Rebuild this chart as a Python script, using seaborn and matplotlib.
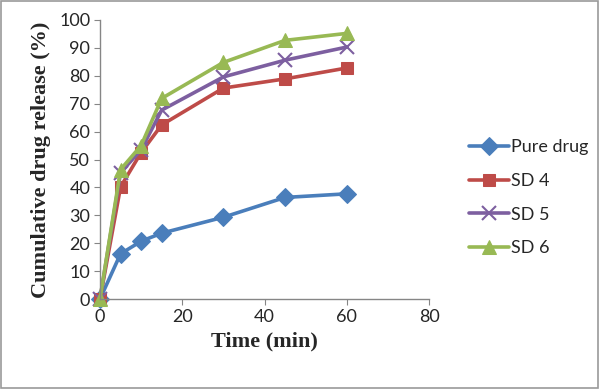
import matplotlib
matplotlib.use("Agg")
import matplotlib.pyplot as plt
import seaborn as sns
import pandas as pd
from matplotlib.patches import Rectangle

time = [0, 5, 10, 15, 30, 45, 60]
pure_drug = [0, 16.2, 20.7, 23.6, 29.3, 36.4, 37.7]
sd4 = [0, 40.2, 52.5, 62.4, 75.6, 78.9, 82.8]
sd5 = [0, 45.3, 53.5, 67.7, 79.6, 85.6, 90.3]
sd6 = [0, 46.4, 55.0, 71.9, 84.8, 92.7, 95.2]
series_names = ["Pure drug", "SD 4", "SD 5", "SD 6"]
x_ticks = [0, 20, 40, 60, 80]
y_ticks = [0, 10, 20, 30, 40, 50, 60, 70, 80, 90, 100]

rows = []
for name, vals in zip(series_names, [pure_drug, sd4, sd5, sd6]):
    for t, v in zip(time, vals):
        rows.append({"Time": t, "Release": v, "Series": name})
df = pd.DataFrame(rows)

sns.set_style("white")
plt.rcParams["font.family"] = ["Lato", "DejaVu Sans"]

colors = {"Pure drug": "#4A7EBB", "SD 4": "#BE4B48", "SD 5": "#7D5FA0", "SD 6": "#98B954"}
markers = {"Pure drug": "D", "SD 4": "s", "SD 5": "X", "SD 6": "^"}

fig = plt.figure(figsize=(6.0, 3.89), dpi=100)
ax = fig.add_axes([100/600, 1 - 299/389, 329/600, 279/389])

for name in series_names:
    sub = df[df["Series"] == name]
    mk = markers[name]
    kw = dict(markersize=9)
    if name == "SD 5":
        mk = "x"
        kw = dict(markersize=10, markeredgewidth=1.5)
    if name == "SD 6":
        kw = dict(markersize=10)
    sns.lineplot(data=sub, x="Time", y="Release", ax=ax, color=colors[name],
                 marker=mk, linewidth=2.6, label=name, markeredgecolor=colors[name],
                 **kw)

ax.set_xlim(0, 80)
ax.set_ylim(0, 100)
ax.set_xticks(x_ticks)
ax.set_yticks(y_ticks)
ax.tick_params(axis="both", labelsize=13, length=4, color="#868686", direction="out",
               left=True, bottom=True, pad=3)
for s in ["top", "right"]:
    ax.spines[s].set_visible(False)
for s in ["left", "bottom"]:
    ax.spines[s].set_color("#868686")
    ax.spines[s].set_linewidth(1.0)
for line in ax.lines:
    line.set_clip_on(False)

ax.set_xlabel("Time (min)", family=["Liberation Serif"], fontweight="bold", fontsize=16, labelpad=5)
ax.set_ylabel("Cumulative drug release (%)", family=["Liberation Serif"], fontweight="bold",
              fontsize=16, labelpad=6)

leg = ax.legend(loc="upper left", bbox_to_anchor=(453/600, 1 - 123/389),
                bbox_transform=fig.transFigure, frameon=False, fontsize=13,
                handlelength=2.2, labelspacing=0.98, handletextpad=0.1)

fig.patches.append(Rectangle((0.002, 0.003), 0.995, 0.994, transform=fig.transFigure,
                             fill=False, edgecolor="#9a9a9a", linewidth=1.2))

fig.savefig("out.png", dpi=100)
